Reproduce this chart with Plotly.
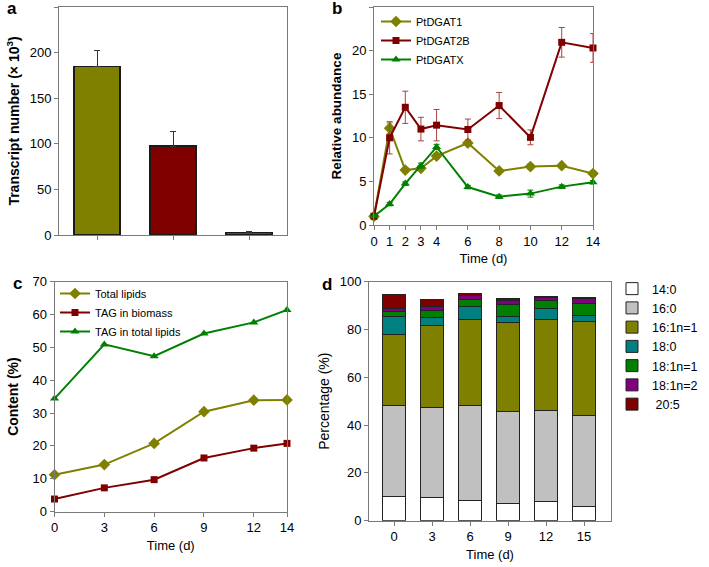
import plotly.graph_objects as go

W, H = 709, 567
FONT = "Liberation Sans, Arial, sans-serif"

# ---------------- data ----------------
# panel a
genes_a = ["PtDGAT1", "PtDGAT2B", "PtDGATX"]
transcripts_a = [185, 97.5, 3]
transcripts_err_a = [17.5, 16.5, 0.8]

# panel b
time_b = [0, 1, 2, 3, 4, 6, 8, 10, 12, 14]
dgat1_b = [1.0, 11.1, 6.3, 6.5, 7.9, 9.4, 6.2, 6.7, 6.8, 5.9]
dgat1_err_b = [0.1, 0.6, 0.3, 0.3, 0.3, 0.3, 0.2, 0.3, 0.2, 0.3]
dgat2b_b = [1.0, 10.0, 13.5, 11.0, 11.45, 10.95, 13.7, 10.05, 20.95, 20.3]
dgat2b_err_b = [0.1, 1.85, 1.85, 1.35, 1.8, 1.2, 1.5, 0.85, 1.7, 1.65]
dgatx_b = [1.0, 2.4, 4.75, 6.8, 8.95, 4.35, 3.25, 3.6, 4.4, 4.9]
dgatx_err_b = [0.1, 0.2, 0.2, 0.3, 0.3, 0.2, 0.2, 0.4, 0.2, 0.2]

# panel c
time_c = [0, 3, 6, 9, 12, 14]
total_lipids_c = [11.2, 14.3, 20.75, 30.4, 33.9, 34.0]
tag_biomass_c = [3.8, 7.2, 9.7, 16.3, 19.3, 20.75]
tag_total_c = [34.4, 50.9, 47.3, 54.2, 57.6, 61.4]

# panel d
time_d = ["0", "3", "6", "9", "12", "15"]
fa_names_d = ["14:0", "16:0", "16:1n=1", "18:0", "18:1n=1", "18:1n=2", " 20:5"]
fa_values_d = {
    "14:0":    [10.3, 9.8, 8.4, 7.4, 8.0, 6.0],
    "16:0":    [38.1, 37.5, 39.7, 38.3, 38.3, 38.1],
    "16:1n=1": [29.6, 34.4, 36.1, 37.2, 37.9, 39.3],
    "18:0":    [7.6, 3.3, 5.6, 2.7, 4.5, 2.3],
    "18:1n=1": [1.8, 3.1, 2.8, 5.0, 3.3, 5.2],
    "18:1n=2": [1.4, 1.4, 1.5, 1.4, 1.6, 2.1],
    " 20:5":   [6.0, 3.2, 1.1, 0.9, 0.4, 0.6],
}

OLIVE, MAROON, GREEN = "#808000", "#800000", "#008000"
fa_colors_d = ["#ffffff", "#c0c0c0", OLIVE, "#008080", GREEN, "#800080", MAROON]

fig = go.Figure()

# ---------------- panel a ----------------
fig.add_trace(go.Bar(
    x=genes_a, y=transcripts_a, xaxis="x", yaxis="y", width=0.6,
    marker=dict(color=[OLIVE, MAROON, GREEN], line=dict(color="#1a1a1a", width=1.5)),
    error_y=dict(type="data", array=transcripts_err_a, arrayminus=[0, 0, 0], symmetric=False,
                 color="#333333", thickness=1, width=3),
    showlegend=False,
))

# ---------------- panel b ----------------
def line_trace(x, y, err, color, symbol, size, name, xa, ya, legend, errcolor=None):
    return go.Scatter(
        x=x, y=y, name=name, xaxis=xa, yaxis=ya, mode="lines+markers",
        line=dict(color=color, width=2),
        marker=dict(color=color, symbol=symbol, size=size),
        error_y=(dict(type="data", array=err, color=errcolor or color, thickness=1, width=3)
                 if err is not None else None),
        cliponaxis=False, legend=legend,
    )

fig.add_trace(line_trace(time_b, dgat1_b, dgat1_err_b, OLIVE, "diamond", 9, "PtDGAT1", "x2", "y2", "legend"))
fig.add_trace(line_trace(time_b, dgat2b_b, dgat2b_err_b, MAROON, "square", 7, "PtDGAT2B", "x2", "y2", "legend", "#a84444"))
fig.add_trace(line_trace(time_b, dgatx_b, dgatx_err_b, GREEN, "triangle-up", 8, "PtDGATX", "x2", "y2", "legend"))

# ---------------- panel c ----------------
fig.add_trace(line_trace(time_c, total_lipids_c, None, OLIVE, "diamond", 9, "Total lipids", "x3", "y3", "legend2"))
fig.add_trace(line_trace(time_c, tag_biomass_c, None, MAROON, "square", 7, "TAG in biomass", "x3", "y3", "legend2"))
fig.add_trace(line_trace(time_c, tag_total_c, None, GREEN, "triangle-up", 8, "TAG in total lipids", "x3", "y3", "legend2"))

# ---------------- panel d ----------------
for name, col in zip(fa_names_d, fa_colors_d):
    fig.add_trace(go.Bar(
        x=time_d, y=fa_values_d[name], name=name, xaxis="x4", yaxis="y4", width=0.6,
        marker=dict(color=col, line=dict(color="#222222", width=1)),
        legend="legend3",
    ))

# ---------------- layout ----------------
def dx(a, b):
    return [a / W, b / W]

def dy(top, bottom):
    return [1 - bottom / H, 1 - top / H]

AX = dict(showline=True, linecolor="#7a7a7a", linewidth=1, mirror=True, automargin=False,
          ticks="outside", ticklen=4, tickcolor="#7a7a7a", showgrid=False, zeroline=False,
          tickfont=dict(family=FONT, size=13, color="black"), fixedrange=True)

TT = dict(family=FONT, size=13, color="black")
TB = dict(family=FONT, size=14, color="black", weight="bold")

fig.update_layout(
    width=W, height=H, margin=dict(l=0, r=0, t=0, b=0, autoexpand=False),
    paper_bgcolor="white", plot_bgcolor="white",
    barmode="stack", bargap=0.4,
    font=dict(family=FONT, color="black"),
    xaxis=dict(AX, domain=dx(59, 287), anchor="y", showticklabels=False),
    yaxis=dict(AX, domain=dy(7, 235), anchor="x", range=[0, 250], tickvals=[0, 50, 100, 150, 200, 250],
               title=dict(text="Transcript number (× 10<sup>3</sup>)", font=TB, standoff=6)),
    xaxis2=dict(AX, domain=dx(374, 593), anchor="y2", range=[0, 14], tickvals=time_b,
                title=dict(text="Time (d)", font=TT, standoff=6)),
    yaxis2=dict(AX, domain=dy(7, 225), anchor="x2", range=[0, 25], tickvals=[0, 5, 10, 15, 20, 25],
                title=dict(text="Relative abundance", font=dict(TB, size=13.5), standoff=7)),
    xaxis3=dict(AX, domain=dx(54.5, 287), anchor="y3", range=[0, 14], tickvals=time_c,
                title=dict(text="Time (d)", font=TT, standoff=6)),
    yaxis3=dict(AX, domain=dy(281.7, 511.5), anchor="x3", range=[0, 70],
                tickvals=[0, 10, 20, 30, 40, 50, 60, 70],
                title=dict(text="Content (%)", font=TB, standoff=10)),
    xaxis4=dict(AX, domain=dx(369, 611), anchor="y4", range=[-0.66, 5.71],
                title=dict(text="Time (d)", font=TT, standoff=6)),
    yaxis4=dict(AX, domain=dy(281.7, 520.7), anchor="x4", range=[0, 100],
                tickvals=[0, 20, 40, 60, 80, 100],
                title=dict(text="Percentage (%)", font=dict(TT, size=14), standoff=6)),
    legend=dict(x=376 / W, y=1 - 7 / H, xanchor="left", yanchor="top", bgcolor="rgba(0,0,0,0)",
                font=dict(family=FONT, size=11), itemwidth=30, traceorder="normal"),
    legend2=dict(x=55 / W, y=1 - 279 / H, xanchor="left", yanchor="top", bgcolor="rgba(0,0,0,0)",
                 font=dict(family=FONT, size=11), itemwidth=30, traceorder="normal"),
    legend3=dict(x=612 / W, y=1 - 274 / H, xanchor="left", yanchor="top", bgcolor="rgba(0,0,0,0)",
                 font=dict(family=FONT, size=12.5), itemwidth=30, traceorder="normal"),
)

for txt, px, py in [("a", 12, 9), ("b", 337, 9), ("c", 17, 283), ("d", 327, 284)]:
    fig.add_annotation(text=txt, x=px / W, y=1 - py / H, xref="paper", yref="paper",
                       showarrow=False, xanchor="center", yanchor="middle",
                       font=dict(family=FONT, size=17, color="black", weight="bold"))

# remove the browser's default page margin so the figure sits at the window's corner
fig.write_html("out.html", config={"displayModeBar": False},
               post_script="document.body.style.margin='0';document.body.style.overflow='hidden';")
